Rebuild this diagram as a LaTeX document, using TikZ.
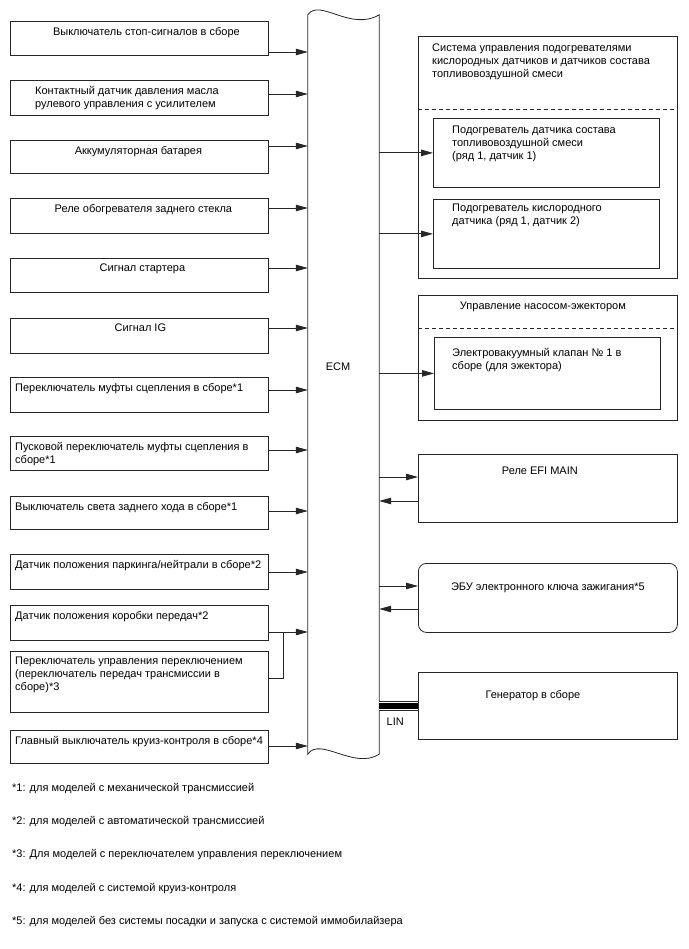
\documentclass[tikz,border=0pt]{standalone}
\usepackage{fontspec}
\setmainfont{Liberation Sans}
\usetikzlibrary{arrows.meta, calc}

\begin{document}
\begin{tikzpicture}[x=1pt, y=-1pt,
    every node/.style={font=\fontsize{11}{13}\selectfont, inner sep=0pt},
    box/.style={draw=black!85, line width=0.8pt, minimum width=258pt,
      minimum height=34pt, anchor=north west},
    rbox/.style={box, minimum width=259pt},
    sub/.style={box, minimum width=226pt},
    txt/.style={anchor=north, align=center},
    ltxt/.style={anchor=north west, align=left},
    arr/.style={-{Triangle[length=12pt, width=6.5pt]}, line width=0.8pt, draw=black!85},
    wire/.style={line width=0.8pt, draw=black!85}]
  \useasboundingbox (0,0) rectangle (688,949);

  % ECM
  \node[minimum width=71pt, minimum height=739pt] (ECM) at (343.5,384.5) {};
  \draw[wire] (ECM.south west) -- (ECM.north west)
    .. controls +(12,-17) and +(-29,17) .. (ECM.north east)
    -- (ECM.south east)
    .. controls +(-25,16) and +(12,-18) .. (ECM.south west) -- cycle;
  \node (ECMT) at (338,367) {ECM};

  % inputs
  \node[box] (Stop) at (10,21) {};
  \node[txt] (StopL) at ($(Stop.north)+(7,6)$) {Выключатель стоп-сигналов в сборе};
  \node[box, minimum height=35pt] (PSOil) at (10,80) {};
  \node[ltxt] (PSOilL) at ($(PSOil.north west)+(25,6)$)
    {Контактный датчик давления масла\\рулевого управления с усилителем};
  \node[box, minimum height=33pt] (Batt) at (10,140) {};
  \node[txt] (BattL) at ($(Batt.north)+(-1,6)$) {Аккумуляторная батарея};
  \node[box, minimum height=35pt] (Defog) at (10,198) {};
  \node[txt] (DefogL) at ($(Defog.north)+(4,6)$) {Реле обогревателя заднего стекла};
  \node[box] (Starter) at (10,258) {};
  \node[txt] (StarterL) at ($(Starter.north)+(3,6)$) {Сигнал стартера};
  \node[box, minimum height=35pt] (IGSig) at (10,318) {};
  \node[txt] (IGSigL) at ($(IGSig.north)+(1,6)$) {Сигнал IG};
  \node[box, minimum height=35pt] (Clutch) at (10,377) {};
  \node[ltxt] (ClutchL) at ($(Clutch.north west)+(5,6)$)
    {Переключатель муфты сцепления в сборе*1};
  \node[box] (ClutchSt) at (10,436) {};
  \node[ltxt] (ClutchStL) at ($(ClutchSt.north west)+(5,6)$)
    {Пусковой переключатель муфты сцепления в\\сборе*1};
  \node[box, minimum height=33pt] (BackUp) at (10,496) {};
  \node[ltxt] (BackUpL) at ($(BackUp.north west)+(5,6)$)
    {Выключатель света заднего хода в сборе*1};
  \node[box, minimum height=35pt] (PNP) at (10,554) {};
  \node[ltxt] (PNPL) at ($(PNP.north west)+(5,6)$)
    {Датчик положения паркинга/нейтрали в сборе*2};
  \node[box, minimum height=35pt] (ShiftPos) at (10,605) {};
  \node[ltxt] (ShiftPosL) at ($(ShiftPos.north west)+(5,6)$)
    {Датчик положения коробки передач*2};
  \node[box, minimum height=61pt] (ShiftSw) at (10,651) {};
  \node[ltxt] (ShiftSwL) at ($(ShiftSw.north west)+(5,6)$)
    {Переключатель управления переключением\\(переключатель передач трансмиссии в\\сборе)*3};
  \node[box, minimum height=33pt] (Cruise) at (10,730) {};
  \node[ltxt] (CruiseL) at ($(Cruise.north west)+(5,6)$)
    {Главный выключатель круиз-контроля в сборе*4};

  \foreach \b/\dy in {Stop/31, PSOil/14, Batt/6, Defog/10, Starter/10, IGSig/10,
      Clutch/13, ClutchSt/14, BackUp/15, PNP/18, ShiftPos/27, Cruise/16} {
    \path ($(\b.north east)+(0,\dy)$) coordinate (s);
    \draw[arr] (s) -- (s -| ECM.west);
  }
  \path ($(ShiftPos.north east)+(15,27)$) coordinate (join);
  \draw[wire] ($(ShiftSw.north east)+(0,27)$) -| (join);

  % outputs
  \node[rbox, minimum height=242pt] (OxSys) at (418,36) {};
  \node[ltxt] (OxSysL) at ($(OxSys.north west)+(14,8)$)
    {Система управления подогревателями\\кислородных датчиков и датчиков состава\\топливовоздушной смеси};
  \draw[wire, dash pattern=on 4pt off 3pt] ($(OxSys.north west)+(0,73)$) -- ($(OxSys.north east)+(0,73)$);
  \node[sub, minimum height=69pt] (AFHtr) at (433,118) {};
  \node[ltxt] (AFHtrL) at ($(AFHtr.north west)+(19,8)$)
    {Подогреватель датчика состава\\топливовоздушной смеси\\(ряд 1, датчик 1)};
  \node[sub, minimum height=69pt] (OxHtr) at (433,199) {};
  \node[ltxt] (OxHtrL) at ($(OxHtr.north west)+(19,5)$)
    {Подогреватель кислородного\\датчика (ряд 1, датчик 2)};

  \node[rbox, minimum height=125pt] (Ejector) at (418,295) {};
  \node[txt] (EjectorL) at ($(Ejector.north)+(-5,7)$) {Управление насосом-эжектором};
  \draw[wire, dash pattern=on 4pt off 3pt] ($(Ejector.north west)+(0,33)$) -- ($(Ejector.north east)+(0,33)$);
  \node[sub, minimum height=72pt] (VSV) at (434,337) {};
  \node[ltxt] (VSVL) at ($(VSV.north west)+(18,11)$)
    {Электровакуумный клапан № 1 в\\сборе (для эжектора)};

  \node[rbox, minimum height=68pt] (EFI) at (418,454) {};
  \node[txt] (EFIL) at ($(EFI.north)+(-8,13)$) {Реле EFI MAIN};
  \node[rbox, minimum height=69pt, rounded corners=8pt] (IDECU) at (418,563) {};
  \node[txt] (IDECUL) at ($(IDECU.north)+(0,20)$) {ЭБУ электронного ключа зажигания*5};
  \node[rbox, minimum height=67pt] (Alt) at (418,672) {};
  \node[txt] (AltL) at ($(Alt.north)+(-15,18)$) {Генератор в сборе};

  \draw[arr] (AFHtr.west -| ECM.east) -- (AFHtr.west);
  \draw[arr] (OxHtr.west -| ECM.east) -- (OxHtr.west);
  \draw[arr] (VSV.west -| ECM.east) -- (VSV.west);
  \foreach \b/\dout/\din in {EFI/23/47, IDECU/23/46} {
    \path ($(\b.north west)+(0,\dout)$) coordinate (o);
    \path ($(\b.north west)+(0,\din)$) coordinate (i);
    \draw[arr] (o -| ECM.east) -- (o);
    \draw[arr] (i) -- (i -| ECM.east);
  }

  \draw[line width=10pt, black!85] (Alt.west -| ECM.east) -- (Alt.west);
  \draw[line width=8pt, white] (Alt.west -| ECM.east) -- (Alt.west);
  \draw[line width=5.5pt, black] (Alt.west -| ECM.east) -- (Alt.west);
  \node[txt] (LINL) at ($(Alt.west -| ECM.east)+(16,12)$) {LIN};

  % notes
  \foreach \i/\y/\t in {1/783/{*1: для моделей с механической трансмиссией},
      2/816/{*2: для моделей с автоматической трансмиссией},
      3/849/{*3: Для моделей с переключателем управления переключением},
      4/883/{*4: для моделей с системой круиз-контроля},
      5/916/{*5: для моделей без системы посадки и запуска с системой иммобилайзера}}
    \node[ltxt] (Note\i) at (12,\y) {\t};
\end{tikzpicture}
\end{document}
